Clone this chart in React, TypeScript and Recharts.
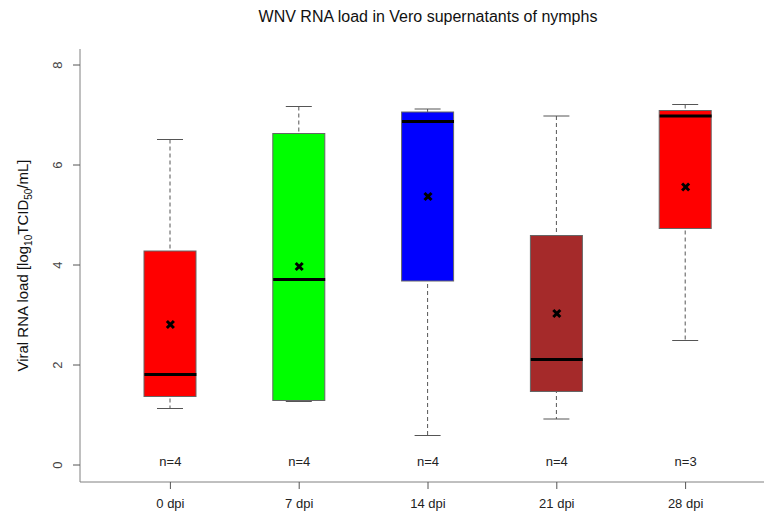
import React from 'react';
import { ComposedChart, Bar, Line, XAxis, YAxis, ReferenceDot } from 'recharts';

const categories = ['0 dpi', '7 dpi', '14 dpi', '21 dpi', '28 dpi'];
const whiskerLow = [1.13, 1.27, 0.59, 0.92, 2.49];
const q1 = [1.37, 1.29, 3.68, 1.47, 4.73];
const median = [1.81, 3.71, 6.87, 2.11, 6.98];
const q3 = [4.28, 6.63, 7.06, 4.59, 7.09];
const whiskerHigh = [6.51, 7.17, 7.12, 6.98, 7.21];
const means = [2.81, 3.97, 5.37, 3.03, 5.56];
const nCounts = [4, 4, 4, 4, 3];
const boxColors = ['#ff0000', '#00ff00', '#0000ff', '#a52a2a', '#ff0000'];
const yTicks = [0, 2, 4, 6, 8];

const data = categories.map((name, i) => ({
  name,
  box: [q1[i], q3[i]],
  whisker: [whiskerLow[i], whiskerHigh[i]],
  median: median[i],
  mean: means[i],
  color: boxColors[i],
}));

const FONT = '"Liberation Sans", Arial, sans-serif';

const BoxShape = (props: any) => {
  const { x, y, width, height, payload } = props;
  const top = Math.min(y, y + height);
  const h = Math.abs(height);
  return <rect x={x} y={top} width={width} height={h} fill={payload.color} stroke="#666" strokeWidth={1} />;
};

const WhiskerShape = (props: any) => {
  const { x, y, width, height } = props;
  const top = Math.min(y, y + height);
  const bottom = Math.max(y, y + height);
  const cx = x + width / 2;
  return (
    <g stroke="#555" strokeWidth={1}>
      <line x1={cx} x2={cx} y1={top} y2={bottom} strokeDasharray="4 3" />
      <line x1={x} x2={x + width} y1={top} y2={top} />
      <line x1={x} x2={x + width} y1={bottom} y2={bottom} />
    </g>
  );
};

const MedianDot = (props: any) => {
  const { cx, cy, index } = props;
  return <line key={`med-${index}`} x1={cx - 26} x2={cx + 26} y1={cy} y2={cy} stroke="#000" strokeWidth={3} />;
};

const MeanDot = (props: any) => {
  const { cx, cy, index } = props;
  const d = 3.5;
  return (
    <g key={`mean-${index}`} stroke="#000" strokeWidth={3}>
      <line x1={cx - d} y1={cy - d} x2={cx + d} y2={cy + d} />
      <line x1={cx - d} y1={cy + d} x2={cx + d} y2={cy - d} />
    </g>
  );
};

const YTick = (props: any) => {
  const { x, y, payload } = props;
  const tx = x - 9.5;
  return (
    <text x={tx} y={y} transform={`rotate(-90, ${tx}, ${y})`} textAnchor="middle" fill="#444" fontSize={13} fontFamily={FONT}>
      {payload.value}
    </text>
  );
};

const YLabel = (props: any) => {
  const vb = props.viewBox || { x: 0, y: 49, width: 80, height: 433 };
  const lx = 28;
  const ly = vb.y + vb.height / 2;
  return (
    <text x={lx} y={ly} transform={`rotate(-90, ${lx}, ${ly})`} textAnchor="middle" fill="#111" fontSize={15} fontFamily={FONT}>
      Viral RNA load [log
      <tspan fontSize={10} dy={3.5}>10</tspan>
      <tspan dy={-3.5}>TCID</tspan>
      <tspan fontSize={10} dy={3.5}>50</tspan>
      <tspan dy={-3.5}>/mL]</tspan>
    </text>
  );
};

const NLabel = (n: number) => (props: any) => {
  const { viewBox } = props;
  const cx = viewBox.x + (viewBox.width || 0) / 2;
  const cy = viewBox.y + (viewBox.height || 0) / 2;
  return (
    <text x={cx} y={cy + 1} textAnchor="middle" fill="#222" fontSize={13} fontFamily={FONT}>
      n={n}
    </text>
  );
};

export default function App() {
  return (
    <div style={{ position: 'fixed', left: 0, top: 0, width: 764, height: 515, overflow: 'hidden', background: '#fff', fontFamily: FONT }}>
      <div style={{ position: 'absolute', left: 0, top: 8, width: 856, textAlign: 'center', fontSize: 16, lineHeight: '18px', color: '#111' }}>
        WNV RNA load in Vero supernatants of nymphs
      </div>
      <ComposedChart width={800} height={515} data={data} margin={{ top: 49, right: 24, bottom: 0, left: 0 }}>
        <XAxis
          xAxisId="box"
          dataKey="name"
          padding={{ left: 26, right: 26 }}
          interval={0}
          height={33}
          tickSize={7}
          tickMargin={10}
          axisLine={{ stroke: '#808080' }}
          tickLine={{ stroke: '#555' }}
          tick={{ fill: '#222', fontSize: 13, fontFamily: FONT }}
        />
        <XAxis xAxisId="whisk" dataKey="name" padding={{ left: 26, right: 26 }} hide />
        <XAxis xAxisId="top" orientation="top" dataKey="name" height={0} tick={false} tickLine={false} axisLine={{ stroke: '#444' }} />
        <YAxis
          type="number"
          domain={[-0.34, 8.32]}
          ticks={yTicks}
          allowDataOverflow
          width={80}
          tickSize={7}
          axisLine={{ stroke: '#808080' }}
          tickLine={{ stroke: '#555' }}
          tick={<YTick />}
          label={<YLabel />}
        />
        <Bar xAxisId="whisk" dataKey="whisker" barSize={26} shape={<WhiskerShape />} isAnimationActive={false} />
        <Bar xAxisId="box" dataKey="box" barSize={52} shape={<BoxShape />} isAnimationActive={false} />
        <Line xAxisId="box" dataKey="median" stroke="none" dot={<MedianDot />} activeDot={false} isAnimationActive={false} />
        <Line xAxisId="box" dataKey="mean" stroke="none" dot={<MeanDot />} activeDot={false} isAnimationActive={false} />
        {categories.map((c, i) => (
          <ReferenceDot key={c} xAxisId="box" x={c} y={0} r={0} fill="none" stroke="none" label={NLabel(nCounts[i])} />
        ))}
      </ComposedChart>
    </div>
  );
}
